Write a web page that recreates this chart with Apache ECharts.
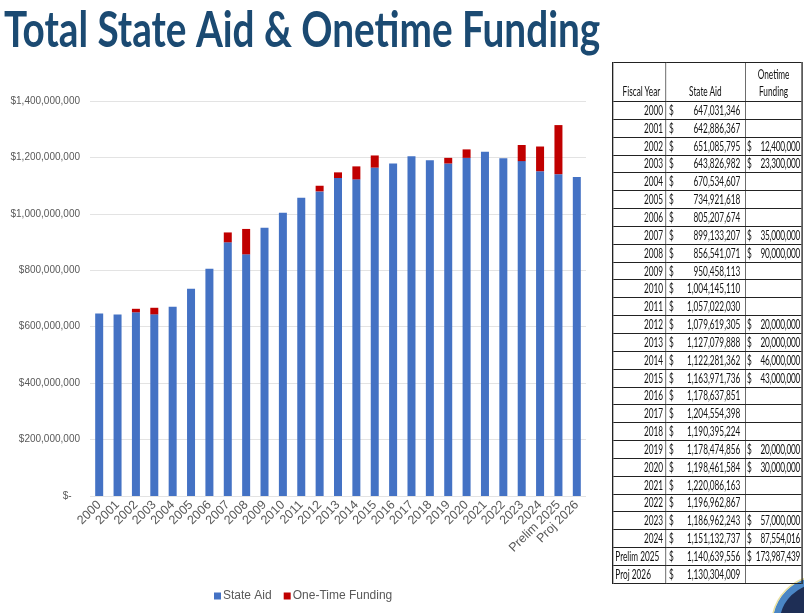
<!DOCTYPE html>
<html>
<head>
<meta charset="utf-8">
<script src="https://cdn.jsdelivr.net/npm/echarts@6/dist/echarts.min.js"></script>
<style>
  html, body { margin: 0; padding: 0; background: #fff; overflow: hidden; }
  #wrap { position: relative; width: 804px; height: 613px; overflow: hidden; }
  #chart { position: absolute; left: 0; top: 0; width: 804px; height: 613px; }
  #tbl { position: absolute; left: 612px; top: 62px; transform-origin: 0 0; transform: scaleX(0.66); }
  #tbl table { border-collapse: collapse; table-layout: fixed; width: 287px;
               font-family: Lato, "Noto Sans", sans-serif; font-size: 12.5px; color: #111; }
  #tbl td { border: 1px solid #222; padding: 0 3px; height: 16.85px; line-height: 15px; white-space: nowrap; overflow: hidden; }
  #tbl td.c1 { text-align: right; border-left: 2px solid #222; }
  #tbl td.c1.l { text-align: left; }
  #tbl td.c3 { border-right: 2px solid #222; padding-left: 2px; padding-right: 2px; letter-spacing: -0.35px; }
  #tbl .f { display: flex; justify-content: space-between; }
  #tbl tr.hd td { height: 37px; vertical-align: bottom; line-height: 17px; padding-bottom: 1px; letter-spacing: 0; }
</style>
</head>
<body>
<div id="wrap">
  <div id="chart"></div>
  <div id="tbl"></div>
</div>
<script>
const categories = ['2000','2001','2002','2003','2004','2005','2006','2007','2008','2009','2010','2011','2012','2013','2014','2015','2016','2017','2018','2019','2020','2021','2022','2023','2024','Prelim 2025','Proj 2026'];
const stateAid = [647031346, 642886367, 651085795, 643826982, 670534607, 734921618, 805207674, 899133207, 856541071, 950458113, 1004145110, 1057022030, 1079619305, 1127079888, 1122281362, 1163971736, 1178637851, 1204554398, 1190395224, 1178474856, 1198461584, 1220086163, 1196962867, 1186962243, 1151132737, 1140639556, 1130304009];
const oneTime = [null, null, 12400000, 23300000, null, null, null, 35000000, 90000000, null, null, null, 20000000, 20000000, 46000000, 43000000, null, null, null, 20000000, 30000000, null, null, 57000000, 87554016, 173987439, null];
const yTicks = [0, 200000000, 400000000, 600000000, 800000000, 1000000000, 1200000000, 1400000000];

function fmt(n) { return n.toLocaleString('en-US'); }

// Table built from the data arrays
let html = '<table><colgroup><col style="width:80px"><col style="width:121px"><col style="width:86px"></colgroup>' +
  '<tr class="hd"><td class="c1 l" style="padding-left:14px">Fiscal Year</td>' +
  '<td style="text-align:center">State Aid</td>' +
  '<td class="c3" style="text-align:center">Onetime<br>Funding</td></tr>';
categories.forEach((c, i) => {
  const isYear = /^\d+$/.test(c);
  html += '<tr><td class="c1' + (isYear ? '' : ' l') + '">' + c + '</td>';
  html += '<td style="padding-left:5px;padding-right:7px"><div class="f"><span>$</span><span>' + fmt(stateAid[i]) + '</span></div></td>';
  html += '<td class="c3">' + (oneTime[i] != null ? '<div class="f"><span>$</span><span>' + fmt(oneTime[i]) + '</span></div>' : '') + '</td></tr>';
});
html += '</table>';
document.getElementById('tbl').innerHTML = html;

const chart = echarts.init(document.getElementById('chart'), null, { renderer: 'canvas' });
chart.setOption({
  animation: false,
  backgroundColor: '#fff',
  graphic: [
    { type: 'text', left: 4, top: 6, scaleX: 0.774, style: { text: 'Total State Aid & Onetime Funding', font: 'bold 50px Lato', fill: '#1B4A72' } },
    { type: 'circle', shape: { cx: 820, cy: 624, r: 44 }, style: { fill: '#1E2E55', stroke: '#4A86C5', lineWidth: 7 } },
    { type: 'circle', shape: { cx: 820, cy: 624, r: 48 }, style: { fill: null, stroke: '#E8E0A0', lineWidth: 1.5 } }
  ],
  grid: { left: 90, right: 218, top: 101, bottom: 117 },
  legend: {
    bottom: 6, left: 209,
    itemWidth: 7, itemHeight: 7, itemGap: 12,
    icon: 'rect',
    textStyle: { fontFamily: 'Liberation Sans', fontSize: 12, color: '#595959', padding: [0, 0, 0, -3] },
    data: ['State Aid', 'One-Time Funding']
  },
  xAxis: {
    type: 'category',
    data: categories,
    axisLine: { show: false },
    axisTick: { show: false },
    axisLabel: { rotate: 45, interval: 0, margin: 7, fontFamily: 'Liberation Sans', fontSize: 12.5, color: '#595959' }
  },
  yAxis: {
    type: 'value', min: 0, max: 1400000000, interval: 200000000,
    axisLine: { show: false }, axisTick: { show: false },
    splitLine: { lineStyle: { color: '#E3E3E3', width: 1 } },
    axisLabel: {
      margin: 10, fontFamily: 'Liberation Sans', fontSize: 10, color: '#595959',
      formatter: v => v === 0 ? '$-   ' : '$' + fmt(v)
    }
  },
  series: [
    { name: 'State Aid', type: 'bar', stack: 'total', data: stateAid, barWidth: 8, itemStyle: { color: '#4472C4' } },
    { name: 'One-Time Funding', type: 'bar', stack: 'total', data: oneTime, barWidth: 8, itemStyle: { color: '#C00000' } }
  ]
});
</script>
</body>
</html>
